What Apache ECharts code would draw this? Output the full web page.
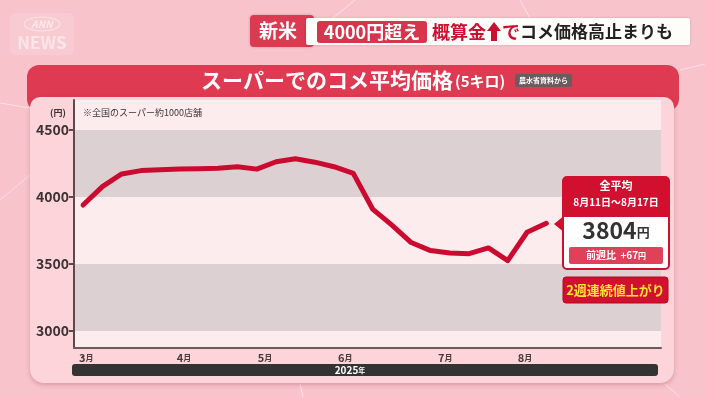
<!DOCTYPE html>
<html>
<head>
<meta charset="utf-8">
<style>
  html, body { margin: 0; padding: 0; background: #f8c3cb; }
  #chart { width: 705px; height: 397px; }
</style>
<script src="https://cdn.jsdelivr.net/npm/echarts@6/dist/echarts.min.js"></script>
</head>
<body>
<div id="chart"></div>
<script>
// スーパーでのコメ平均価格（5キロ）週ごと 2025年
const weeks = ['2/24', '3/3', '3/10', '3/17', '3/24', '3/31', '4/7', '4/14', '4/21', '4/28',
    '5/5', '5/12', '5/19', '5/26', '6/2', '6/9', '6/16', '6/23', '6/30', '7/7',
    '7/14', '7/21', '7/28', '8/4', '8/11'];
const prices = [3940, 4077, 4172, 4197, 4204, 4209, 4211, 4214, 4226, 4208,
    4263, 4285, 4260, 4226, 4176, 3910, 3790, 3660, 3600, 3582,
    3577, 3620, 3525, 3737, 3804];

// 月ラベル（週インデックス上の位置）
const monthPos = [0.16, 5.23, 9.43, 13.58, 18.76, 22.9];
const monthLabels = ['3', '4', '5', '6', '7', '8'];

const yTicks = [3000, 3500, 4000, 4500];
const bands = [[3000, 3500], [4000, 4500]];

const FONT = '"Noto Sans CJK JP", "Noto Sans", sans-serif';

const chart = echarts.init(document.getElementById('chart'));

const lineData = prices.map((p, i) => [i, p]);

const option = {
    backgroundColor: '#f8c3cb',
    animation: false,
    textStyle: { fontFamily: FONT },
    grid: {
        left: 74, right: 44, top: 100, bottom: 49,
        show: true, backgroundColor: '#fdeced', borderWidth: 0
    },
    xAxis: {
        type: 'value',
        min: -0.47,
        max: 29.94,
        z: 20,
        splitLine: { show: false },
        axisLine: { show: true, onZero: false, lineStyle: { color: '#6e5a5d', width: 2 } },
        axisTick: { show: false },
        axisLabel: {
            customValues: monthPos,
            margin: 4,
            formatter: function (v) {
                let idx = 0, best = 99;
                monthPos.forEach((m, i) => {
                    if (Math.abs(m - v) < best) { best = Math.abs(m - v); idx = i; }
                });
                return '{n|' + monthLabels[idx] + '}{m|月}';
            },
            rich: {
                n: { fontSize: 11, fontWeight: 'bold', color: '#4a3a3c', fontFamily: FONT },
                m: { fontSize: 8, fontWeight: 'bold', color: '#4a3a3c', fontFamily: FONT, padding: [1, 0, 0, 0] }
            }
        }
    },
    yAxis: {
        type: 'value',
        min: 2873,
        max: 4724,
        z: 20,
        splitLine: { show: false },
        axisLine: { show: true, onZero: false, lineStyle: { color: '#5a4a4c', width: 2 } },
        axisTick: { show: true, customValues: yTicks, length: 5, lineStyle: { color: '#5a4a4c', width: 2 } },
        axisLabel: {
            customValues: yTicks,
            margin: 5,
            fontSize: 14,
            fontWeight: 'bold',
            color: '#3a3233',
            fontFamily: FONT,
            formatter: function (v) { return String(v); }
        }
    },
    series: [{
        type: 'line',
        data: lineData,
        symbol: 'none',
        lineStyle: { color: '#cc0a30', width: 5, cap: 'round', join: 'round' },
        z: 5,
        markArea: {
            silent: true,
            itemStyle: { color: '#ddd0d2' },
            data: bands.map(b => [{ yAxis: b[0] }, { yAxis: b[1] }])
        }
    }],
    graphic: [
        // 背景の線
        { type: 'line', z: -20, shape: { x1: 355, y1: 0, x2: 318, y2: 30 }, style: { stroke: 'rgba(255,255,255,0.5)', lineWidth: 1 } },
        { type: 'line', z: -20, shape: { x1: 520, y1: 0, x2: 530, y2: 18 }, style: { stroke: 'rgba(255,255,255,0.5)', lineWidth: 1 } },
        { type: 'line', z: -20, shape: { x1: 0, y1: 103, x2: 30, y2: 108 }, style: { stroke: 'rgba(255,255,255,0.5)', lineWidth: 1 } },
        { type: 'line', z: -20, shape: { x1: 0, y1: 200, x2: 30, y2: 175 }, style: { stroke: 'rgba(255,255,255,0.4)', lineWidth: 1 } },
        { type: 'line', z: -20, shape: { x1: 300, y1: 384, x2: 303, y2: 397 }, style: { stroke: 'rgba(255,255,255,0.5)', lineWidth: 1 } },
        { type: 'line', z: -20, shape: { x1: 665, y1: 384, x2: 680, y2: 397 }, style: { stroke: 'rgba(255,255,255,0.5)', lineWidth: 1 } },
        { type: 'line', z: -20, shape: { x1: 680, y1: 70, x2: 705, y2: 64 }, style: { stroke: 'rgba(255,255,255,0.5)', lineWidth: 1 } },

        // ANN NEWS ロゴ
        { type: 'rect', z: -15, shape: { x: 10, y: 13, width: 64, height: 42, r: 5 }, style: { fill: 'rgba(255,255,255,0.12)' } },
        { type: 'ellipse', z: -14, shape: { cx: 42, cy: 24, rx: 18, ry: 7 }, style: { fill: 'none', stroke: 'rgba(255,255,255,0.45)', lineWidth: 1.2 } },
        { type: 'text', z: -14, style: { x: 42, y: 24, text: 'ANN', fill: 'rgba(255,255,255,0.55)', font: 'italic bold 10px ' + FONT, align: 'center', verticalAlign: 'middle' } },
        { type: 'text', z: -14, style: { x: 42, y: 43, text: 'NEWS', fill: 'rgba(255,255,255,0.5)', font: 'bold 17px ' + FONT, align: 'center', verticalAlign: 'middle' } },

        // 見出し
        { type: 'rect', z: -10, shape: { x: 250, y: 15, width: 64, height: 32, r: 4 }, style: { fill: '#dc3a50', shadowBlur: 3, shadowColor: 'rgba(0,0,0,0.2)' } },
        { type: 'text', z: -9, style: { x: 278, y: 31, text: '新米', fill: '#fff', font: 'bold 19px ' + FONT, align: 'center', verticalAlign: 'middle' } },
        { type: 'rect', z: -9, shape: { x: 306, y: 18, width: 384, height: 27, r: 2 }, style: { fill: '#fffdfa', shadowBlur: 3, shadowColor: 'rgba(0,0,0,0.15)' } },
        { type: 'rect', z: -8, shape: { x: 317, y: 21, width: 110, height: 22, r: 3 }, style: { fill: '#d8344c' } },
        { type: 'text', z: -7, style: { x: 372, y: 32, text: '4000円超え', fill: '#fff', font: 'bold 18px ' + FONT, align: 'center', verticalAlign: 'middle' } },
        { type: 'text', z: -7, style: { x: 432, y: 32, text: '概算金', fill: '#cc1030', font: 'bold 18px ' + FONT, align: 'left', verticalAlign: 'middle' } },
        { type: 'polygon', z: -7, shape: { points: [[494, 22], [501, 31], [497, 31], [497, 41], [491, 41], [491, 31], [487, 31]] }, style: { fill: '#cc1030' } },
        { type: 'text', z: -7, style: { x: 502, y: 32, text: 'で', fill: '#cc1030', font: 'bold 18px ' + FONT, align: 'left', verticalAlign: 'middle' } },
        { type: 'text', z: -7, style: { x: 520, y: 32, text: 'コメ価格高止まりも', fill: '#222', font: 'bold 17px ' + FONT, align: 'left', verticalAlign: 'middle' } },

        // カード
        { type: 'rect', z: -6, shape: { x: 27, y: 65, width: 652, height: 46, r: 12 }, style: { fill: '#de3a51' } },
        { type: 'rect', z: -5, shape: { x: 30, y: 97, width: 644, height: 286, r: [10, 10, 14, 14] }, style: { fill: '#fcd4d9', shadowBlur: 4, shadowOffsetY: 2, shadowColor: 'rgba(150,60,70,0.3)' } },
        {
            type: 'text', z: -4, style: {
                x: 201, y: 80, text: '{a|スーパーでのコメ平均価格}{b|(5キロ)}', align: 'left', verticalAlign: 'middle',
                rich: {
                    a: { fontSize: 21, fontWeight: 'bold', fill: '#fff', fontFamily: FONT },
                    b: { fontSize: 15, fontWeight: 'bold', fill: '#fff', fontFamily: FONT, padding: [3, 0, 0, 2] }
                }
            }
        },
        { type: 'rect', z: -4, shape: { x: 515, y: 74, width: 57, height: 13, r: 2 }, style: { fill: '#6a5c5e' } },
        { type: 'text', z: -3, style: { x: 543.5, y: 80.5, text: '農水省資料から', fill: '#fff', font: 'bold 7px ' + FONT, align: 'center', verticalAlign: 'middle' } },

        // 軸まわりの注記
        { type: 'text', z: 10, style: { x: 58, y: 113, text: '(円)', fill: '#3a3233', font: 'bold 9px ' + FONT, align: 'center', verticalAlign: 'middle' } },
        { type: 'text', z: 10, style: { x: 83, y: 113, text: '※全国のスーパー約1000店舗', fill: '#3a3233', font: '9px ' + FONT, align: 'left', verticalAlign: 'middle' } },

        // 年バー
        { type: 'rect', z: 10, shape: { x: 72, y: 364, width: 586, height: 12, r: 3 }, style: { fill: '#333' } },
        { type: 'text', z: 11, style: { x: 350, y: 370.5, text: '{n|2025}{m|年}', align: 'center', verticalAlign: 'middle',
            rich: { n: { fontSize: 10, fontWeight: 'bold', fill: '#fff', fontFamily: FONT }, m: { fontSize: 7, fontWeight: 'bold', fill: '#fff', fontFamily: FONT } } } },

        // 注記ボックス
        { type: 'polygon', z: 100, shape: { points: [[554, 224], [565, 215], [565, 233]] }, style: { fill: '#d0102e' } },
        { type: 'rect', z: 100, shape: { x: 563, y: 177, width: 106, height: 92, r: 4 }, style: { fill: '#fff', stroke: '#d0102e', lineWidth: 2 } },
        { type: 'rect', z: 101, shape: { x: 563, y: 177, width: 106, height: 40, r: [4, 4, 0, 0] }, style: { fill: '#d0102e' } },
        { type: 'text', z: 102, style: { x: 616, y: 186, text: '全平均', fill: '#fff', font: 'bold 11px ' + FONT, align: 'center', verticalAlign: 'middle' } },
        { type: 'text', z: 102, style: { x: 616, y: 202, text: '8月11日〜8月17日', fill: '#fff', font: 'bold 10px ' + FONT, align: 'center', verticalAlign: 'middle' } },
        { type: 'text', z: 102, style: { x: 616, y: 230, text: '{n|3804}{m|円}', align: 'center', verticalAlign: 'middle',
            rich: { n: { fontSize: 23, fontWeight: 'bold', fill: '#333', fontFamily: FONT }, m: { fontSize: 13, fontWeight: 'bold', fill: '#333', fontFamily: FONT, padding: [5, 0, 0, 0] } } } },
        { type: 'rect', z: 101, shape: { x: 569, y: 247, width: 94, height: 17, r: 2 }, style: { fill: '#e0405a' } },
        { type: 'text', z: 102, style: { x: 616, y: 255.5, text: '{a|前週比  +67}{b|円}', align: 'center', verticalAlign: 'middle',
            rich: { a: { fontSize: 10, fontWeight: 'bold', fill: '#fff', fontFamily: FONT }, b: { fontSize: 8, fontWeight: 'bold', fill: '#fff', fontFamily: FONT } } } },
        { type: 'rect', z: 100, shape: { x: 563, y: 277, width: 105, height: 26, r: 3 }, style: { fill: '#d10f2e', stroke: '#b00a25', lineWidth: 1 } },
        { type: 'text', z: 101, style: { x: 615.5, y: 290, text: '2週連続値上がり', fill: '#ffe52e', font: 'bold 13px ' + FONT, align: 'center', verticalAlign: 'middle' } }
    ]
};

chart.setOption(option);
</script>
</body>
</html>
